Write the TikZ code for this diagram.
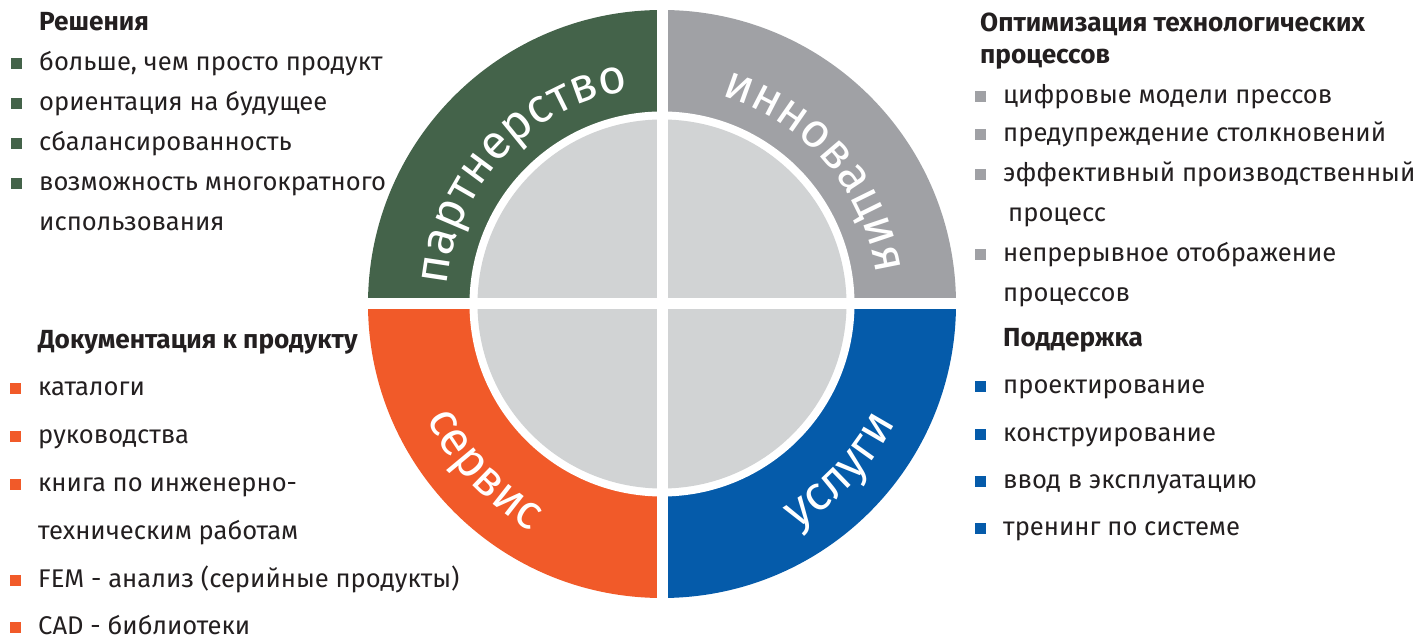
\documentclass[tikz,border=0pt]{standalone}
\usepackage{fontspec}
\setmainfont{Fira Sans}
\usepackage{tikz}
\usetikzlibrary{positioning,decorations.text}
\definecolor{partnerGreen}{RGB}{68,99,74}
\definecolor{innovGray}{RGB}{160,161,165}
\definecolor{serviceOrange}{RGB}{241,90,41}
\definecolor{supportBlue}{RGB}{5,91,170}
\definecolor{coreGray}{RGB}{209,211,212}
\definecolor{textDark}{RGB}{35,31,32}
\newcommand{\ringfont}{\fontsize{48}{48}\selectfont}
\tikzstyle{headText} = [anchor=west, inner sep=0pt, text height=13.6pt, text depth=0pt, text=textDark, font=\fontsize{26.2}{31}\selectfont\bfseries]
\tikzstyle{itemText} = [anchor=west, inner sep=0pt, text height=13.6pt, text depth=0pt, text=textDark, font=\fontsize{25.6}{31}\selectfont]
\tikzstyle{bullet} = [rectangle, inner sep=0pt, minimum size=11pt]
\tikzstyle{bulletG} = [bullet, fill=partnerGreen]
\tikzstyle{bulletS} = [bullet, fill=innovGray]
\tikzstyle{bulletO} = [bullet, fill=serviceOrange]
\tikzstyle{bulletB} = [bullet, fill=supportBlue]
\tikzstyle{gapLine} = [white, line width=11pt]
\tikzset{ringLabel/.style={decorate, decoration={text along path, text align=center, text={|\color{white}\ringfont|#1}}}}

\begin{document}
\begin{tikzpicture}[x=1pt, y=1pt]
    \useasboundingbox (0,0) rectangle (1421,636);
    \coordinate (c) at (662,332);

    % ring quadrants
    \fill[partnerGreen] (c) -- ([shift={(180:294pt)}]c) arc[start angle=180, end angle=90, radius=294pt] -- cycle;
    \fill[innovGray] (c) -- ([shift={(90:294pt)}]c) arc[start angle=90, end angle=0, radius=294pt] -- cycle;
    \fill[serviceOrange] (c) -- ([shift={(180:294pt)}]c) arc[start angle=180, end angle=270, radius=294pt] -- cycle;
    \fill[supportBlue] (c) -- ([shift={(270:294pt)}]c) arc[start angle=270, end angle=360, radius=294pt] -- cycle;
    \fill[white] (c) circle[radius=192.5pt];
    \fill[coreGray] (c) circle[radius=184.5pt];
    \draw[gapLine] ([xshift=-300pt]c) -- ([xshift=300pt]c);
    \draw[gapLine] ([yshift=-300pt]c) -- ([yshift=300pt]c);

    % ring labels
    \path[ringLabel={партнерство}] ([shift={(182:216pt)}]c) arc[start angle=182, end angle=92, radius=216pt];
    \path[ringLabel={инновация}] ([shift={(86:216pt)}]c) arc[start angle=86, end angle=-4, radius=216pt];
    \path[ringLabel={сервис}] ([shift={(178:262pt)}]c) arc[start angle=178, end angle=268, radius=262pt];
    \path[ringLabel={услуги}] ([shift={(272:262pt)}]c) arc[start angle=272, end angle=362, radius=262pt];

    % solutions
    \node (solHead) [headText] at (39,612) {Решения};
    \node (sol1) [itemText, below=40pt of solHead.west, anchor=west] {больше, чем просто продукт};
    \node (sol2) [itemText, below=40pt of sol1.west, anchor=west] {ориентация на будущее};
    \node (sol3) [itemText, below=40pt of sol2.west, anchor=west] {сбалансированность};
    \node (sol4) [itemText, below=40pt of sol3.west, anchor=west] {возможность многократного};
    \node (sol4b) [itemText, below=40pt of sol4.west, anchor=west] {использования};
    \node (solB1) [bulletG, left=17pt of sol1] {};
    \node (solB2) [bulletG, left=17pt of sol2] {};
    \node (solB3) [bulletG, left=17pt of sol3] {};
    \node (solB4) [bulletG, left=17pt of sol4] {};

    % documentation
    \node (docHead) [headText] at (38,294) {Документация к продукту};
    \node (doc1) [itemText, below=46.5pt of docHead.west, anchor=west] {каталоги};
    \node (doc2) [itemText, below=48pt of doc1.west, anchor=west] {руководства};
    \node (doc3) [itemText, below=48pt of doc2.west, anchor=west] {книга по инженерно-};
    \node (doc3b) [itemText, below=48pt of doc3.west, anchor=west] {техническим работам};
    \node (doc4) [itemText, below=48pt of doc3b.west, anchor=west] {FEM - анализ (серийные продукты)};
    \node (doc5) [itemText, below=47.5pt of doc4.west, anchor=west] {CAD - библиотеки};
    \node (docB1) [bulletO, left=17pt of doc1] {};
    \node (docB2) [bulletO, left=17pt of doc2] {};
    \node (docB3) [bulletO, left=17pt of doc3] {};
    \node (docB4) [bulletO, left=17pt of doc4] {};
    \node (docB5) [bulletO, left=17pt of doc5] {};

    % process optimisation
    \node (optHead) [headText] at (980,611) {Оптимизация технологических};
    \node (optHeadB) [headText, below=32pt of optHead.west, anchor=west] {процессов};
    \node (opt1) [itemText] at (1003,539) {цифровые модели прессов};
    \node (opt2) [itemText, below=38pt of opt1.west, anchor=west] {предупреждение столкновений};
    \node (opt3) [itemText, below=40pt of opt2.west, anchor=west] {эффективный производственный};
    \node (opt3b) [itemText, below=40pt of opt3.west, anchor=west, xshift=5pt] {процесс};
    \node (opt4) [itemText, below=80pt of opt3.west, anchor=west] {непрерывное отображение};
    \node (opt4b) [itemText, below=40pt of opt4.west, anchor=west] {процессов};
    \node (optB1) [bulletS, left=17pt of opt1] {};
    \node (optB2) [bulletS, left=17pt of opt2] {};
    \node (optB3) [bulletS, left=17pt of opt3] {};
    \node (optB4) [bulletS, left=17pt of opt4] {};

    % support
    \node (supHead) [headText] at (1003,296) {Поддержка};
    \node (sup1) [itemText, below=47pt of supHead.west, anchor=west] {проектирование};
    \node (sup2) [itemText, below=47.3pt of sup1.west, anchor=west] {конструирование};
    \node (sup3) [itemText, below=47.3pt of sup2.west, anchor=west] {ввод в эксплуатацию};
    \node (sup4) [itemText, below=47.3pt of sup3.west, anchor=west] {тренинг по системе};
    \node (supB1) [bulletB, left=17pt of sup1] {};
    \node (supB2) [bulletB, left=17pt of sup2] {};
    \node (supB3) [bulletB, left=17pt of sup3] {};
    \node (supB4) [bulletB, left=17pt of sup4] {};
\end{tikzpicture}
\end{document}
